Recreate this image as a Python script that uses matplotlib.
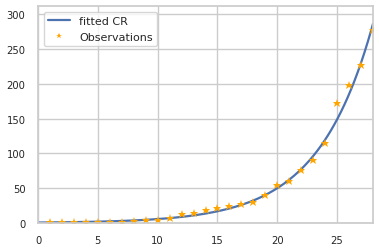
import numpy as np
import matplotlib
matplotlib.use("Agg")
import matplotlib.pyplot as plt
import seaborn as sns

obs_x = list(range(1, 29))
obs_y = [1, 1, 1, 1, 1, 2, 2, 3, 4, 5, 7, 13, 15, 18, 21, 24, 27, 30,
         40, 54, 60, 76, 90, 115, 173, 198, 227, 278]

# fitted curve parameters y = a * exp(b * x)
fit_a = 0.64
fit_b = 0.218

sns.set_theme(style="whitegrid")
plt.rcParams['font.family'] = ['DejaVu Sans']

fig = plt.figure(figsize=(3.79, 2.51), dpi=100)
ax = fig.add_axes([38 / 379, 1 - 224 / 251, (373 - 38) / 379, (224 - 7) / 251])

xs = np.linspace(0, 28, 200)
ax.plot(xs, fit_a * np.exp(fit_b * xs), color="#4C72B0", lw=1.6, label="fitted CR")
ax.plot(obs_x, obs_y, "*", color="orange", ms=6.3, markeredgewidth=0, label="Observations")

ax.set_xlim(0, 28)
ax.set_ylim(0, 312)
ax.set_xticks([0, 5, 10, 15, 20, 25])
ax.set_yticks([0, 50, 100, 150, 200, 250, 300])
ax.tick_params(labelsize=7.2, pad=3)
ax.legend(loc="upper left", fontsize=8, markerscale=0.65)

fig.savefig("out.png", dpi=100)
